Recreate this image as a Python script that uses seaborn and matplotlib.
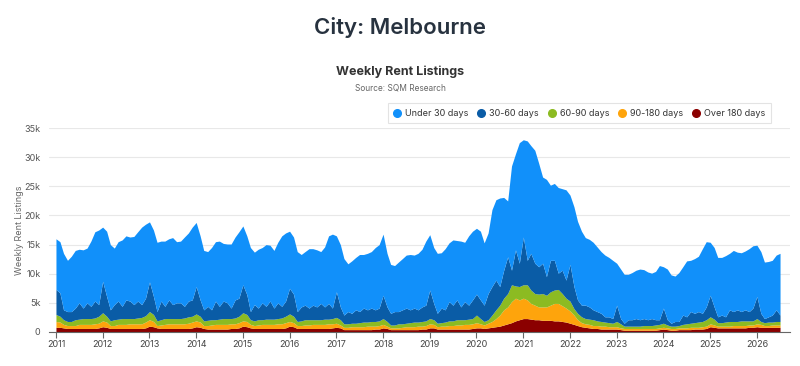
import pandas as pd
import matplotlib
matplotlib.use("Agg")
import matplotlib.pyplot as plt
import matplotlib.dates as mdates
from matplotlib.lines import Line2D
from matplotlib.ticker import FuncFormatter
import seaborn as sns

# monthly readings, thousands of listings, Jan 2011 .. Jul 2026
start_month = "2011-01-01"

under_30 = [
    8.7, 8.8, 9.7, 8.8, 9.5, 9.9, 9.2, 10.0, 9.4, 11.2, 11.9, 12.8,
    9.3, 11.2, 11.2, 9.7, 10.2, 11.4, 11.0, 11.0, 11.7, 11.9, 13.3, 12.7,
    10.3, 11.4, 11.9, 10.3, 11.2, 10.5, 11.5, 10.5, 10.6, 11.9, 11.7, 12.5,
    11.0, 11.0, 10.2, 9.4, 10.7, 10.2, 11.2, 9.9, 10.1, 11.0, 10.8, 11.4,
    10.1, 10.1, 11.0, 9.0, 10.1, 9.5, 10.6, 9.6, 9.9, 10.4, 12.1, 11.7,
    9.8, 9.8, 10.3, 9.0, 9.2, 10.2, 9.7, 9.8, 8.9, 10.3, 11.6, 12.7,
    9.6, 10.7, 9.7, 8.2, 9.0, 9.0, 9.8, 9.2, 9.7, 9.7, 10.7, 10.9,
    10.5, 9.2, 8.4, 7.9, 8.5, 8.8, 9.1, 9.5, 9.1, 9.7, 9.9, 11.0,
    9.5, 9.6, 10.3, 9.5, 10.5, 10.1, 11.2, 10.2, 11.3, 10.2, 11.9, 11.8,
    11.3, 11.8, 10.7, 10.4, 13.2, 13.8, 15.2, 12.5, 9.6, 17.9, 16.5, 20.7,
    16.7, 20.5, 18.5, 19.4, 17.8, 14.8, 16.7, 12.9, 13.2, 14.7, 14.0, 15.5,
    11.9, 13.7, 13.5, 12.7, 11.6, 11.6, 11.6, 11.1, 10.6, 10.6, 10.2, 10.0,
    7.2, 8.5, 8.4, 7.8, 8.1, 8.3, 8.7, 8.4, 8.2, 7.8, 8.3, 9.3,
    7.1, 8.7, 8.3, 7.8, 8.4, 8.3, 9.6, 8.8, 9.4, 9.5, 11.1, 11.2,
    9.1, 10.2, 10.2, 9.9, 10.5, 9.7, 10.5, 9.9, 10.1, 10.1, 10.8, 10.7,
    8.8, 10.6, 9.7, 9.5, 9.4, 9.4, 10.6,
]
days_30_60 = [
    4.3, 4.0, 1.7, 1.7, 1.7, 2.0, 2.8, 1.8, 2.7, 2.1, 2.9, 2.0,
    5.4, 3.4, 1.9, 2.6, 3.1, 2.1, 3.2, 3.0, 2.4, 2.9, 2.2, 3.0,
    5.1, 3.1, 1.6, 3.2, 2.1, 3.2, 2.4, 2.7, 2.7, 2.0, 2.7, 2.8,
    4.7, 2.8, 1.9, 2.4, 1.7, 3.2, 2.2, 3.0, 2.7, 1.8, 3.1, 3.1,
    4.8, 3.4, 1.4, 2.8, 2.0, 2.9, 2.2, 3.1, 1.9, 2.7, 2.0, 2.6,
    4.4, 3.8, 1.7, 2.4, 2.5, 2.0, 2.5, 2.2, 2.8, 2.1, 2.7, 1.8,
    4.4, 2.2, 1.5, 2.1, 1.7, 2.3, 1.9, 2.4, 2.1, 2.3, 2.0, 2.2,
    4.0, 2.5, 2.0, 2.3, 2.1, 2.4, 2.6, 2.2, 2.4, 2.1, 2.5, 2.7,
    4.9, 2.8, 1.7, 2.5, 2.1, 3.3, 2.7, 3.4, 2.2, 3.1, 2.4, 3.2,
    3.6, 3.2, 2.8, 4.5, 4.9, 5.1, 3.2, 4.8, 6.3, 2.5, 6.2, 4.0,
    8.2, 4.2, 6.3, 5.2, 4.7, 5.2, 3.2, 5.4, 5.1, 2.8, 4.0, 3.1,
    6.3, 3.8, 2.3, 2.0, 2.3, 2.1, 1.7, 1.6, 1.4, 0.9, 1.0, 0.8,
    2.8, 0.9, 0.5, 1.1, 1.1, 1.3, 1.1, 1.2, 1.0, 1.2, 0.9, 0.8,
    2.6, 0.9, 0.5, 0.8, 0.7, 1.6, 1.2, 2.0, 1.6, 1.8, 1.4, 2.2,
    3.7, 2.1, 1.0, 1.3, 0.9, 2.0, 1.7, 2.0, 1.6, 1.9, 1.6, 2.2,
    3.8, 1.4, 0.7, 0.9, 1.2, 2.0, 1.1,
]
days_60_90 = [
    1.2, 1.0, 0.8, 0.7, 0.7, 1.0, 0.9, 1.0, 1.0, 1.0, 1.0, 1.2,
    1.4, 1.0, 0.8, 1.0, 0.9, 1.0, 1.0, 0.9, 0.9, 1.0, 1.1, 1.1,
    1.4, 1.2, 0.8, 0.9, 1.0, 0.9, 0.9, 0.9, 0.9, 1.0, 1.1, 1.0,
    1.2, 1.0, 0.8, 0.9, 0.9, 0.8, 0.9, 1.0, 1.0, 0.9, 1.0, 1.1,
    1.4, 1.2, 0.8, 0.8, 0.9, 0.8, 0.9, 0.9, 0.9, 0.9, 1.0, 1.1,
    1.3, 1.1, 0.7, 0.8, 0.9, 0.9, 0.8, 0.8, 0.8, 0.9, 0.8, 0.9,
    1.0, 0.9, 0.6, 0.6, 0.6, 0.6, 0.7, 0.8, 0.7, 0.8, 0.8, 0.8,
    1.0, 0.8, 0.5, 0.5, 0.7, 0.6, 0.6, 0.7, 0.8, 0.7, 0.8, 0.8,
    0.9, 0.8, 0.6, 0.6, 0.7, 0.8, 0.8, 0.9, 0.9, 0.8, 0.9, 0.9,
    1.3, 0.9, 0.6, 0.6, 1.1, 1.5, 1.7, 2.0, 2.3, 2.9, 2.1, 2.3,
    2.3, 2.6, 2.3, 2.0, 2.2, 2.3, 2.0, 2.3, 2.3, 2.4, 2.1, 1.7,
    1.7, 1.1, 1.1, 1.0, 0.9, 0.9, 1.0, 0.8, 0.8, 0.7, 0.7, 0.6,
    0.9, 0.7, 0.4, 0.4, 0.4, 0.4, 0.4, 0.5, 0.5, 0.5, 0.6, 0.6,
    0.7, 0.5, 0.4, 0.4, 0.4, 0.6, 0.7, 0.7, 0.8, 0.9, 0.9, 1.1,
    1.2, 1.0, 0.6, 0.6, 0.7, 0.8, 0.7, 0.7, 0.8, 0.8, 0.7, 0.7,
    0.9, 0.5, 0.5, 0.6, 0.5, 0.6, 0.6,
]
days_90_180 = [
    1.0, 0.9, 0.6, 0.5, 0.5, 0.5, 0.7, 0.7, 0.7, 0.7, 0.8, 0.8,
    1.0, 0.9, 0.5, 0.5, 0.7, 0.7, 0.7, 0.8, 0.8, 0.8, 0.8, 1.0,
    1.1, 0.9, 0.4, 0.6, 0.7, 0.8, 0.8, 0.8, 0.8, 0.8, 0.9, 1.0,
    1.0, 0.9, 0.5, 0.6, 0.7, 0.8, 0.8, 0.8, 0.8, 0.8, 0.8, 0.9,
    0.9, 0.9, 0.6, 0.5, 0.6, 0.7, 0.7, 0.7, 0.7, 0.8, 0.8, 0.9,
    0.8, 0.7, 0.5, 0.5, 0.6, 0.6, 0.7, 0.7, 0.7, 0.7, 0.8, 0.7,
    0.7, 0.5, 0.4, 0.4, 0.5, 0.5, 0.5, 0.5, 0.6, 0.6, 0.5, 0.6,
    0.6, 0.4, 0.3, 0.3, 0.3, 0.4, 0.5, 0.5, 0.5, 0.6, 0.5, 0.6,
    0.7, 0.6, 0.4, 0.5, 0.5, 0.6, 0.6, 0.7, 0.7, 0.8, 0.8, 0.8,
    0.9, 0.7, 0.6, 0.8, 1.0, 1.4, 1.9, 2.6, 2.9, 3.6, 3.9, 3.4,
    3.5, 3.2, 2.7, 2.5, 2.2, 2.3, 2.3, 2.6, 3.0, 3.0, 2.7, 2.4,
    2.1, 1.6, 1.0, 0.7, 0.6, 0.6, 0.5, 0.5, 0.5, 0.5, 0.4, 0.4,
    0.4, 0.3, 0.3, 0.3, 0.3, 0.3, 0.3, 0.3, 0.3, 0.3, 0.3, 0.3,
    0.3, 0.3, 0.3, 0.3, 0.3, 0.3, 0.3, 0.4, 0.3, 0.3, 0.4, 0.4,
    0.5, 0.4, 0.3, 0.3, 0.3, 0.3, 0.4, 0.4, 0.4, 0.4, 0.4, 0.4,
    0.5, 0.5, 0.3, 0.3, 0.4, 0.4, 0.4,
]
over_180 = [
    0.8, 0.8, 0.7, 0.6, 0.6, 0.6, 0.6, 0.6, 0.6, 0.6, 0.6, 0.7,
    0.9, 0.8, 0.6, 0.6, 0.6, 0.6, 0.6, 0.6, 0.6, 0.6, 0.6, 0.7,
    1.0, 0.9, 0.7, 0.6, 0.6, 0.6, 0.6, 0.6, 0.6, 0.6, 0.6, 0.7,
    0.9, 0.8, 0.6, 0.5, 0.5, 0.5, 0.5, 0.5, 0.5, 0.6, 0.6, 0.7,
    1.0, 0.9, 0.7, 0.6, 0.6, 0.6, 0.6, 0.6, 0.6, 0.6, 0.6, 0.7,
    1.0, 0.9, 0.6, 0.6, 0.6, 0.6, 0.6, 0.6, 0.6, 0.6, 0.6, 0.7,
    0.8, 0.7, 0.4, 0.4, 0.4, 0.4, 0.4, 0.4, 0.4, 0.4, 0.5, 0.5,
    0.7, 0.6, 0.4, 0.4, 0.4, 0.4, 0.4, 0.4, 0.4, 0.4, 0.5, 0.5,
    0.7, 0.7, 0.5, 0.5, 0.5, 0.5, 0.5, 0.5, 0.5, 0.5, 0.5, 0.6,
    0.7, 0.7, 0.6, 0.7, 0.8, 0.9, 1.0, 1.2, 1.4, 1.6, 1.9, 2.1,
    2.3, 2.3, 2.2, 2.1, 2.1, 2.0, 2.0, 2.0, 1.9, 1.9, 1.8, 1.7,
    1.5, 1.3, 1.1, 0.9, 0.8, 0.7, 0.6, 0.6, 0.5, 0.5, 0.5, 0.5,
    0.5, 0.4, 0.3, 0.3, 0.3, 0.3, 0.3, 0.3, 0.3, 0.3, 0.3, 0.4,
    0.5, 0.4, 0.3, 0.3, 0.4, 0.4, 0.4, 0.4, 0.5, 0.5, 0.5, 0.6,
    0.9, 0.8, 0.7, 0.7, 0.7, 0.7, 0.7, 0.7, 0.7, 0.7, 0.8, 0.8,
    0.9, 0.8, 0.8, 0.8, 0.8, 0.8, 0.8,
]

series_names = ["Under 30 days", "30-60 days", "60-90 days", "90-180 days", "Over 180 days"]
series_colors = ["#1190fa", "#0a5ca6", "#8cbb22", "#fea40c", "#8b0000"]

dates = pd.date_range(start_month, periods=len(under_30), freq="MS")
df = pd.DataFrame({
    "date": dates,
    "Over 180 days": over_180,
    "90-180 days": days_90_180,
    "60-90 days": days_60_90,
    "30-60 days": days_30_60,
    "Under 30 days": under_30,
})

sns.set_theme(style="white")
plt.rcParams["font.family"] = ["Inter", "DejaVu Sans"]

fig = plt.figure(figsize=(8, 3.66), dpi=100)
ax = fig.add_axes([0.061, 0.093, 0.927, 0.557])

# stack from the bottom band upwards
stack_order = series_names[::-1]
ax.stackplot(df["date"], *[df[n] for n in stack_order],
             colors=series_colors[::-1], linewidth=0)

ax.set_ylim(0, 35)
ax.set_yticks(range(0, 36, 5))
ax.yaxis.set_major_formatter(FuncFormatter(lambda v, _: "0" if v == 0 else f"{v:g}k"))
ax.set_xlim(pd.Timestamp("2010-11-06"), pd.Timestamp("2026-09-20"))
ax.xaxis.set_major_locator(mdates.YearLocator())
ax.xaxis.set_major_formatter(mdates.DateFormatter("%Y"))

ax.grid(axis="y", color="#e8e8e8", linewidth=0.8)
ax.set_axisbelow(True)
for side in ["top", "right", "left"]:
    ax.spines[side].set_visible(False)
ax.spines["bottom"].set_color("#666666")
ax.spines["bottom"].set_linewidth(0.8)
ax.tick_params(axis="x", length=4, width=0.8, color="#666666", labelsize=6.5,
               labelcolor="#444444", pad=2, bottom=True)
ax.tick_params(axis="y", length=0, labelsize=6.5, labelcolor="#555555", pad=6)
ax.set_ylabel("Weekly Rent Listings", fontsize=6.5, color="#666666")
ax.yaxis.set_label_coords(-0.034, 0.5)
ax.set_xlabel("")

fig.text(0.5, 0.925, "City: Melbourne", ha="center", va="center",
         fontsize=16, fontweight="semibold", color="#27323f")
fig.text(0.5, 0.803, "Weekly Rent Listings", ha="center", va="center",
         fontsize=9, fontweight="bold", color="#333333")
fig.text(0.5, 0.76, "Source: SQM Research", ha="center", va="center",
         fontsize=6, color="#666666")

handles = [Line2D([0], [0], marker="o", linestyle="", markersize=5.5,
                  markerfacecolor=c, markeredgecolor=c) for c in series_colors]
leg = fig.legend(handles, series_names, loc="upper right",
                 bbox_to_anchor=(0.969, 0.73), ncol=5, fontsize=6.5,
                 frameon=True, fancybox=False, handletextpad=0.5,
                 columnspacing=1.0, borderpad=0.6, handlelength=0.8)
leg.get_frame().set_edgecolor("#dddddd")
leg.get_frame().set_linewidth(0.8)
for t in leg.get_texts():
    t.set_color("#333333")

fig.savefig("out.png", dpi=100)
